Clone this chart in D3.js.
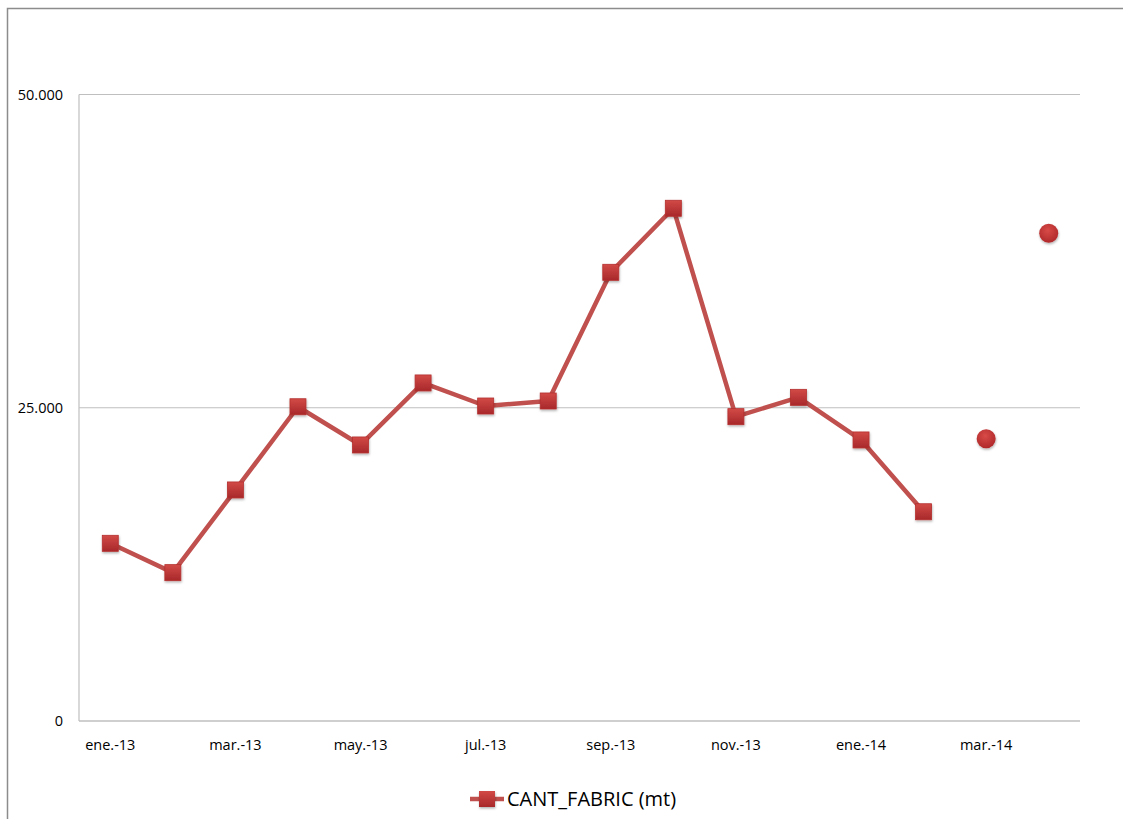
<!DOCTYPE html>
<html>
<head>
<meta charset="utf-8">
<script src="https://cdn.jsdelivr.net/npm/d3@7"></script>
<style>
  html, body { margin: 0; padding: 0; background: #fff; }
  svg { display: block; }
  text { font-family: "Open Sans", "Noto Sans", sans-serif; fill: #000; }
</style>
</head>
<body>
<svg id="chart" width="1123" height="819"></svg>
<script>
// Monthly categories (Spanish short month labels)
const months = ["ene.-13","feb.-13","mar.-13","abr.-13","may.-13","jun.-13","jul.-13","ago.-13",
                "sep.-13","oct.-13","nov.-13","dic.-13","ene.-14","feb.-14","mar.-14","abr.-14"];
// Production quantity (mt) - connected series
const cantFabric = [14180, 11840, 18440, 25080, 22030, 26980, 25140, 25540,
                    35810, 40920, 24290, 25830, 22430, 16700, null, null];
// Isolated points shown without a connecting line
const cantExtra = [null, null, null, null, null, null, null, null,
                   null, null, null, null, null, null, 22530, 38920];
const yTicks = [0, 25000, 50000];
const tickLabels = ["ene.-13","mar.-13","may.-13","jul.-13","sep.-13","nov.-13","ene.-14","mar.-14"];
const seriesName = "CANT_FABRIC (mt)";

const svg = d3.select("#chart");
const plot = { left: 79, right: 1080, top: 94.5, bottom: 721 };

// Chart area frame
svg.append("rect")
  .attr("x", 7.5).attr("y", 8.5).attr("width", 1140).attr("height", 830)
  .attr("fill", "none").attr("stroke", "#8c8c8c").attr("stroke-width", 1.5);

const x = d3.scaleBand().domain(months).range([plot.left, plot.right]);
const y = d3.scaleLinear().domain([0, 50000]).range([plot.bottom, plot.top]);
const cx = m => x(m) + x.bandwidth() / 2;

const defs = svg.append("defs");
const grad = defs.append("linearGradient").attr("id", "mk").attr("x1", 0).attr("y1", 0).attr("x2", 0).attr("y2", 1);
grad.append("stop").attr("offset", "0%").attr("stop-color", "#d24a47");
grad.append("stop").attr("offset", "100%").attr("stop-color", "#a8282a");
const rgrad = defs.append("radialGradient").attr("id", "mkc").attr("cx", "45%").attr("cy", "35%").attr("r", "65%");
rgrad.append("stop").attr("offset", "0%").attr("stop-color", "#d84a47");
rgrad.append("stop").attr("offset", "100%").attr("stop-color", "#b0292b");
const shadow = defs.append("filter").attr("id", "sh").attr("x", "-50%").attr("y", "-50%").attr("width", "200%").attr("height", "200%");
shadow.append("feDropShadow").attr("dx", 0.5).attr("dy", 1.5).attr("stdDeviation", 1.2)
  .attr("flood-color", "#000").attr("flood-opacity", 0.3);

// Gridlines
svg.append("g").selectAll("line").data(yTicks.filter(t => t > 0)).join("line")
  .attr("x1", plot.left).attr("x2", plot.right)
  .attr("y1", d => y(d)).attr("y2", d => y(d))
  .attr("stroke", "#bfbfbf").attr("stroke-width", 1);

// Axes lines
svg.append("line").attr("x1", plot.left).attr("x2", plot.left)
  .attr("y1", plot.top).attr("y2", plot.bottom).attr("stroke", "#bfbfbf").attr("stroke-width", 1.2);
svg.append("line").attr("x1", plot.left).attr("x2", plot.right)
  .attr("y1", plot.bottom).attr("y2", plot.bottom).attr("stroke", "#bfbfbf").attr("stroke-width", 1.5);

// Y tick labels
const fmt = d3.formatLocale({ decimal: ",", thousands: ".", grouping: [3], currency: ["", ""] }).format(",d");
svg.append("g").selectAll("text").data(yTicks).join("text")
  .attr("x", 63).attr("y", d => y(d)).attr("dy", "0.35em")
  .attr("text-anchor", "end").attr("font-size", 14.5)
  .text(d => fmt(d));

// X tick labels
svg.append("g").selectAll("text").data(tickLabels).join("text")
  .attr("x", d => cx(d)).attr("y", 745).attr("dy", "0.35em")
  .attr("text-anchor", "middle").attr("font-size", 14.5)
  .text(d => d);

// Line
const line = d3.line().defined(d => d.v != null).x(d => cx(d.m)).y(d => y(d.v));
const data1 = months.map((m, i) => ({ m, v: cantFabric[i] }));
const data2 = months.map((m, i) => ({ m, v: cantExtra[i] })).filter(d => d.v != null);

svg.append("path").datum(data1).attr("d", line)
  .attr("fill", "none").attr("stroke", "#c0504d").attr("stroke-width", 4.5)
  .attr("stroke-linejoin", "round");

const sq = 16;
svg.append("g").selectAll("rect").data(data1.filter(d => d.v != null)).join("rect")
  .attr("x", d => cx(d.m) - sq / 2).attr("y", d => y(d.v) - sq / 2)
  .attr("width", sq).attr("height", sq)
  .attr("fill", "url(#mk)").attr("stroke", "#b5302f").attr("stroke-width", 0.8)
  .attr("filter", "url(#sh)");

svg.append("g").selectAll("circle").data(data2).join("circle")
  .attr("cx", d => cx(d.m)).attr("cy", d => y(d.v)).attr("r", 9.5)
  .attr("fill", "url(#mkc)").attr("filter", "url(#sh)");

// Legend
const lg = svg.append("g");
lg.append("line").attr("x1", 470).attr("x2", 504).attr("y1", 799).attr("y2", 799)
  .attr("stroke", "#c0504d").attr("stroke-width", 4.5);
lg.append("rect").attr("x", 479).attr("y", 791).attr("width", 16).attr("height", 16)
  .attr("fill", "url(#mk)").attr("filter", "url(#sh)");
lg.append("text").attr("x", 507).attr("y", 799).attr("dy", "0.35em")
  .attr("font-size", 20).text(seriesName);
</script>
</body>
</html>
